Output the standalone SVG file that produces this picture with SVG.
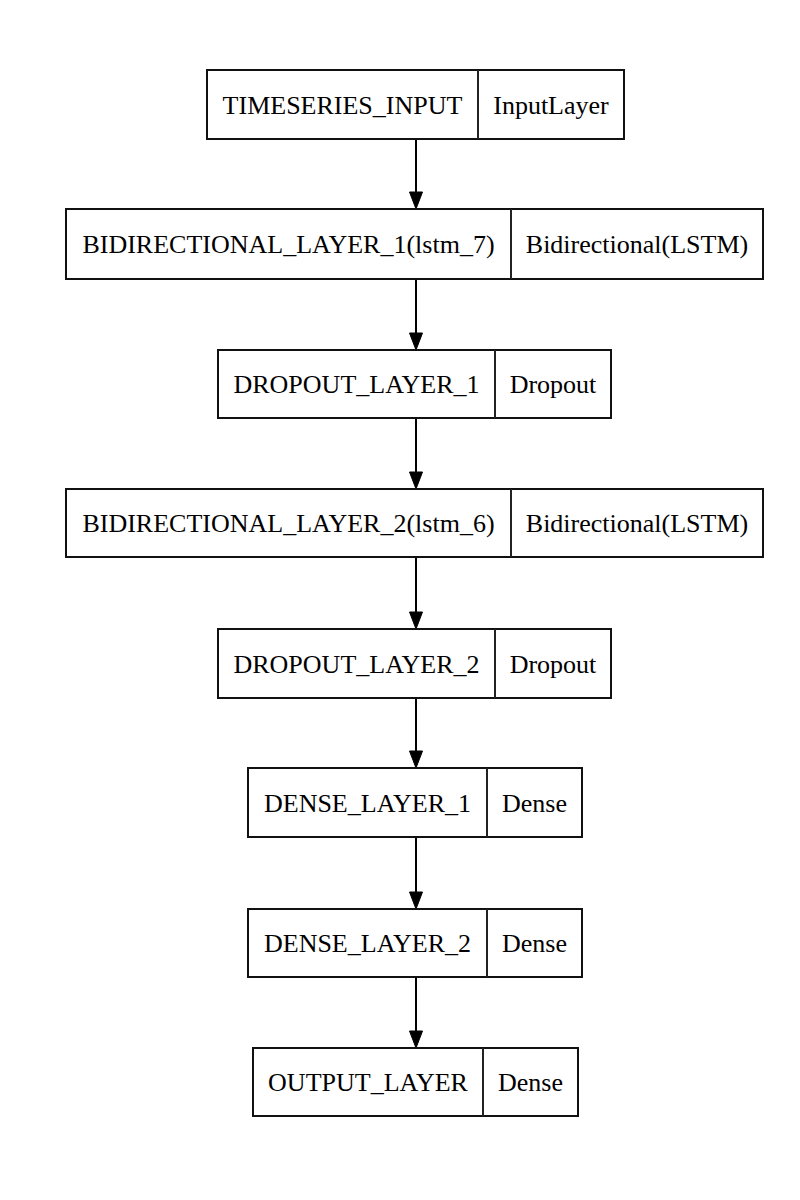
<svg xmlns="http://www.w3.org/2000/svg" width="800" height="1200" viewBox="0 0 800 1200">
<style>
.box{fill:#fff;stroke:#111;stroke-width:2}
.div{stroke:#222;stroke-width:2}
.t{font-family:"Liberation Serif","Times New Roman",serif;font-size:26px;fill:#000;text-anchor:middle}
.edge{stroke:#000;stroke-width:2;fill:none}
.head{fill:#000;stroke:#000;stroke-width:1}
</style>
<rect width="800" height="1200" fill="#fff"/>
<g id="connectors">
<line class="edge" x1="416" y1="139" x2="416" y2="194"/><polygon class="head" points="409.5,192 422.5,192 416,209"/>
<line class="edge" x1="416" y1="279" x2="416" y2="335"/><polygon class="head" points="409.5,333 422.5,333 416,350"/>
<line class="edge" x1="416" y1="418" x2="416" y2="474"/><polygon class="head" points="409.5,472 422.5,472 416,489"/>
<line class="edge" x1="416" y1="557" x2="416" y2="614"/><polygon class="head" points="409.5,612 422.5,612 416,629"/>
<line class="edge" x1="416" y1="698" x2="416" y2="753"/><polygon class="head" points="409.5,751 422.5,751 416,768"/>
<line class="edge" x1="416" y1="837" x2="416" y2="894"/><polygon class="head" points="409.5,892 422.5,892 416,909"/>
<line class="edge" x1="416" y1="977" x2="416" y2="1033"/><polygon class="head" points="409.5,1031 422.5,1031 416,1048"/>
</g>
<g id="n1"><rect class="box" x="207" y="70" width="417" height="69"/><line class="div" x1="478" y1="70" x2="478" y2="139"/>
<text class="t" x="342.5" y="114">TIMESERIES_INPUT</text><text class="t" x="551" y="114">InputLayer</text></g>
<g id="n2"><rect class="box" x="66" y="209" width="697" height="70"/><line class="div" x1="511" y1="209" x2="511" y2="279"/>
<text class="t" x="288.5" y="253">BIDIRECTIONAL_LAYER_1(lstm_7)</text><text class="t" x="637" y="253">Bidirectional(LSTM)</text></g>
<g id="n3"><rect class="box" x="218" y="350" width="393" height="68"/><line class="div" x1="495" y1="350" x2="495" y2="418"/>
<text class="t" x="356.5" y="393">DROPOUT_LAYER_1</text><text class="t" x="553" y="393">Dropout</text></g>
<g id="n4"><rect class="box" x="66" y="489" width="697" height="68"/><line class="div" x1="511" y1="489" x2="511" y2="557"/>
<text class="t" x="288.5" y="532">BIDIRECTIONAL_LAYER_2(lstm_6)</text><text class="t" x="637" y="532">Bidirectional(LSTM)</text></g>
<g id="n5"><rect class="box" x="218" y="629" width="393" height="69"/><line class="div" x1="495" y1="629" x2="495" y2="698"/>
<text class="t" x="356.5" y="673">DROPOUT_LAYER_2</text><text class="t" x="553" y="673">Dropout</text></g>
<g id="n6"><rect class="box" x="248" y="768" width="334" height="69"/><line class="div" x1="487" y1="768" x2="487" y2="837"/>
<text class="t" x="367.5" y="812">DENSE_LAYER_1</text><text class="t" x="534.5" y="812">Dense</text></g>
<g id="n7"><rect class="box" x="248" y="909" width="334" height="68"/><line class="div" x1="487" y1="909" x2="487" y2="977"/>
<text class="t" x="367.5" y="952">DENSE_LAYER_2</text><text class="t" x="534.5" y="952">Dense</text></g>
<g id="n8"><rect class="box" x="253" y="1048" width="325" height="68"/><line class="div" x1="483" y1="1048" x2="483" y2="1116"/>
<text class="t" x="368" y="1091">OUTPUT_LAYER</text><text class="t" x="530.5" y="1091">Dense</text></g>
</svg>
